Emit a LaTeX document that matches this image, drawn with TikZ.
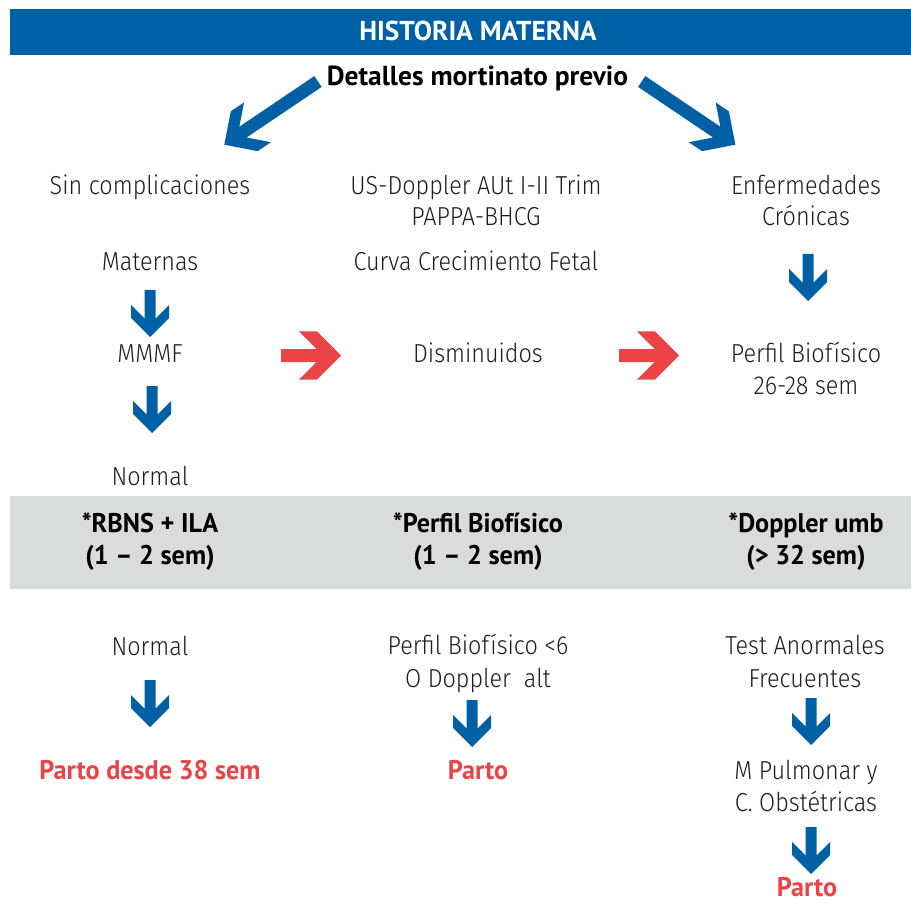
\documentclass[tikz,border=0pt]{standalone}
\usepackage{fontspec}
\setmainfont{PT Sans}
\IfFontExistsTF{Fira Sans Light}{\newfontfamily\lightf{Fira Sans Light}[FakeStretch=0.9]}{%
  \IfFontExistsTF{FiraSans-Light.otf}{\newfontfamily\lightf{FiraSans-Light.otf}[FakeStretch=0.9]}{\newfontfamily\lightf{PT Sans}}}
\newfontfamily\condf{PT Sans}[FakeStretch=0.97]
\definecolor{hblue}{RGB}{0,96,166}
\definecolor{hred}{RGB}{234,68,70}
\definecolor{hgray}{RGB}{218,219,219}
\definecolor{htext}{RGB}{30,30,30}
% block arrow: length, shaft half-width, head half-span, head length
\newcommand{\blockarr}[4]{(0,-#2) -- ({#1-#4+#3-#2},-#2) -- ({#1-#4},-#3) -- ({#1-#3},-#3) -- (#1,0) -- ({#1-#3},#3) -- ({#1-#4},#3) -- ({#1-#4+#3-#2},#2) -- (0,#2) -- cycle}
\tikzset{
  lt/.style={anchor=base, inner sep=0pt, font=\lightf\fontsize{26}{32}\selectfont, text=htext},
  bc/.style={anchor=base, inner sep=0pt, font=\condf\bfseries\fontsize{27}{32}\selectfont, text=black},
  rd/.style={bc, text=hred},
  barr/.style={fill=hblue},
  rarr/.style={fill=hred}
}
\begin{document}
\begin{tikzpicture}[x=1pt,y=-1pt]
\useasboundingbox (0,0) rectangle (911,904);
\fill[white] (0,0) rectangle (911,904);
% bands
\fill[hblue] (10,9) rectangle (911,55);
\fill[hgray] (10,496) rectangle (911,589);
% headers
\node[anchor=base, inner sep=0pt, font=\bfseries\fontsize{27.3}{32}\selectfont, text=white] (title) at (478,41) {HISTORIA MATERNA};
\node[anchor=base, inner sep=0pt, font=\bfseries\fontsize{27.5}{32}\selectfont, text=black] (det) at (477.5,86) {Detalles mortinato previo};
% big diagonal arrows
\fill[barr, shift={(318,81.5)}, rotate=214] \blockarr{113}{6.5}{24}{40};
\fill[barr, shift={(641.7,81.5)}, rotate=-34] \blockarr{113}{6.5}{24}{40};
% left column
\node[lt] (sin) at (150,195) {Sin complicaciones};
\node[lt] (mat) at (150,271) {Maternas};
\node[lt] (mmmf) at (150,362) {MMMF};
\node[lt] (nor1) at (150,485) {Normal};
% middle column
\node[lt] (us) at (476,195) {US-Doppler AUt I-II Trim};
\node[lt] (pap) at (476,226) {PAPPA-BHCG};
\node[lt] (cur) at (476,271) {Curva Crecimiento Fetal};
\node[lt] (dis) at (478,362) {Disminuidos};
% right column
\node[lt] (enf) at (806,195) {Enfermedades};
\node[lt] (cro) at (806,226) {Crónicas};
\node[lt] (pb1) at (806,362) {Perfil Biofísico};
\node[lt] (pb2) at (806,394) {26-28 sem};
% gray band
\node[bc] (g1a) at (150,532) {*RBNS + ILA};
\node[bc] (g1b) at (150,564) {(1 – 2 sem)};
\node[bc] (g2a) at (478,532) {*Perfil Biofísico};
\node[bc] (g2b) at (478,564) {(1 – 2 sem)};
\node[bc] (g3a) at (806,532) {*Doppler umb};
\node[bc] (g3b) at (806,564) {(> 32 sem)};
% lower part
\node[lt] (nor2) at (150,655) {Normal};
\node[lt] (pb3) at (478,654) {Perfil Biofísico <6};
\node[lt] (dop) at (478,687) {O Doppler~ alt};
\node[lt] (tes) at (805,654) {Test Anormales};
\node[lt] (fre) at (805,687) {Frecuentes};
\node[rd] (p1) at (150,779) {Parto desde 38 sem};
\node[rd] (p2) at (478,779) {Parto};
\node[lt] (mp) at (806,779) {M Pulmonar y};
\node[lt] (co) at (806,811) {C. Obstétricas};
\node[rd] (p3) at (807,896) {Parto};
% small blue arrows
\fill[barr, shift={(150,290)}, rotate=-90] \blockarr{47}{5.5}{19}{32};
\fill[barr, shift={(152,386)}, rotate=-90] \blockarr{47}{5.5}{19}{32};
\fill[barr, shift={(808,254)}, rotate=-90] \blockarr{47}{5.5}{19}{32};
\fill[barr, shift={(150,680)}, rotate=-90] \blockarr{47}{5.5}{19}{32};
\fill[barr, shift={(472,700)}, rotate=-90] \blockarr{47}{5.5}{19}{32};
\fill[barr, shift={(811,698)}, rotate=-90] \blockarr{47}{5.5}{19}{32};
\fill[barr, shift={(811,827)}, rotate=-90] \blockarr{47}{5.5}{19}{32};
% red arrows
\fill[rarr, shift={(281,355.5)}] \blockarr{60}{6.5}{24}{42};
\fill[rarr, shift={(619,355.5)}] \blockarr{60}{6.5}{24}{42};
\end{tikzpicture}
\end{document}
